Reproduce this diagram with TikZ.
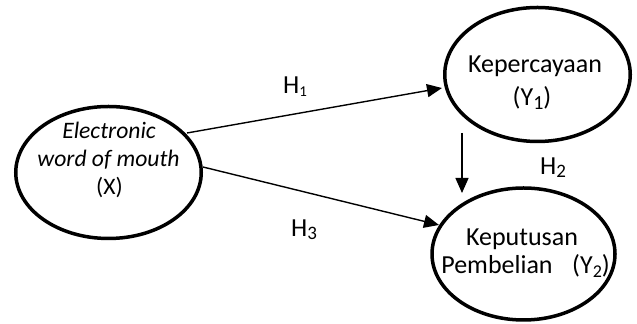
\documentclass[tikz,border=0pt]{standalone}
\usepackage{fontspec}
\setmainfont{Carlito}
\usetikzlibrary{shapes.geometric,arrows.meta}

\tikzset{
  construct/.style={ellipse, draw=black, line width=1.75pt, inner sep=0pt},
  txt/.style={font=\fontsize{13}{14}\selectfont, anchor=base, inner sep=0pt},
  smalltxt/.style={font=\fontsize{11.8}{13}\selectfont, anchor=base, inner sep=0pt},
  path/.style={line width=0.7pt, -{Triangle[length=7.5pt,width=6.5pt]}},
  hyp/.style={font=\fontsize{13}{14}\selectfont, inner sep=0pt}
}
\newcommand{\lowsub}[2]{\raisebox{-0.25ex}{\fontsize{#1}{#1}\selectfont #2}}

\begin{document}
\begin{tikzpicture}[x=0.5pt,y=-0.5pt]
  \useasboundingbox (0,0) rectangle (637,324);

  % variables (outlines)
  \node[construct, minimum width=92.75pt, minimum height=66pt] (x) at (108.5,172.5) {};
  \node[construct, minimum width=92.75pt, minimum height=67pt] (y1) at (537.5,74.5) {};
  \node[construct, minimum width=91.5pt, minimum height=66pt] (y2) at (523.5,254) {};

  % variable names
  \node[smalltxt] (xa) at (109,139) {\itshape Electronic};
  \node[smalltxt] (xb) at (108.5,167) {\itshape word of mouth};
  \node[smalltxt] (xc) at (109.5,195) {(X)};
  \node[txt] (y1a) at (535,73) {Kepercayaan};
  \node[txt] (y1b) at (532,106) {(Y\lowsub{10}{1})};
  \node[txt] (y2a) at (522,246) {Keputusan};
  \node[txt] (y2b) at (497,274) {Pembelian};
  \node[txt] (y2c) at (591,274) {(Y\lowsub{9}{2})};

  % hypothesised paths
  \coordinate (x1) at (187,133);
  \coordinate (x3) at (203,167);
  \coordinate (t1) at (442,88);
  \coordinate (t3) at (439,225);
  \coordinate (v1) at (462,133);
  \coordinate (v2) at (462,193);
  \draw[path] (x1) -- (t1);
  \draw[path] (x3) -- (t3);
  \draw[path] (v1) -- (v2);

  % labels
  \node[hyp] (h1) at (295,87) {H\lowsub{7.5}{1}};
  \node[hyp] (h2) at (553,168) {H\lowsub{9.5}{2}};
  \node[hyp] (h3) at (304,230) {H\lowsub{9.5}{3}};
\end{tikzpicture}
\end{document}
